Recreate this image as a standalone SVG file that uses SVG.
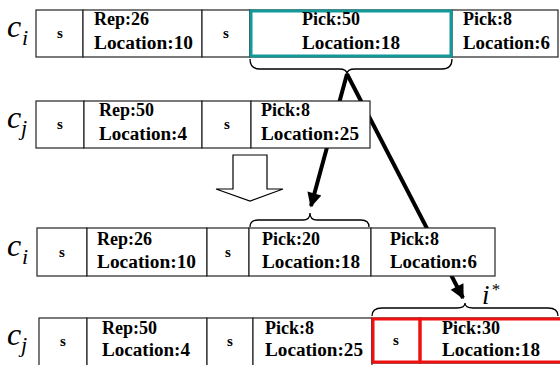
<svg xmlns="http://www.w3.org/2000/svg" width="560" height="365" viewBox="0 0 560 365">
  <defs>
    <marker id="head" viewBox="0 0 10 10" refX="9" refY="5" markerWidth="4.2" markerHeight="3.6" orient="auto" markerUnits="strokeWidth">
      <path d="M0,0 L10,5 L0,10 Z" fill="#000"/>
    </marker>
  </defs>
  <style>
    .cell { fill: #fff; stroke: #222; stroke-width: 1.2; }
    .teal { fill: none; stroke: #14999a; stroke-width: 3; }
    .red { fill: none; stroke: #f01010; stroke-width: 3; }
    .t { font-family: "Liberation Serif", "Times New Roman", serif; font-weight: bold; font-size: 18px; fill: #000; }
    .s { font-family: "Liberation Serif", "Times New Roman", serif; font-weight: bold; font-size: 15px; fill: #000; text-anchor: middle; }
    .var { font-family: "Liberation Serif", "Times New Roman", serif; font-style: italic; fill: #000; }
    .brace { fill: none; stroke: #000; stroke-width: 1.3; }
    .arrow { fill: none; stroke: #000; stroke-width: 4; }
  </style>

  <!-- thick arrows from the upper brace; the cells below are painted over them -->
  <g id="connectors">
    <line class="arrow" x1="347" y1="74" x2="311" y2="206" marker-end="url(#head)"/>
    <line class="arrow" x1="347" y1="74" x2="463" y2="298" marker-end="url(#head)"/>
    <!-- hollow transition arrow -->
    <path d="M233,155 L267,155 L267,189 L283,189 L250,201 L216,189 L233,189 Z" fill="#fff" stroke="#000" stroke-width="1.2"/>
    <!-- braces -->
    <path class="brace" d="M250,59 Q250,69 260,69 L339,69 Q347,69 347,74 Q347,69 355,69 L442,69 Q452,69 452,59"/>
    <path class="brace" d="M250,227 Q250,220 258,220 L303,220 Q310,220 310,213 Q310,220 317,220 L361,220 Q369,220 369,227"/>
    <path class="brace" d="M372,316 Q372,308 382,308 L457,308 Q465,308 465,303 Q465,308 473,308 L548,308 Q558,308 558,316"/>
  </g>

  <!-- row 1: c_i -->
  <g id="row1">
    <text class="var" x="7" y="37" font-size="32">c</text>
    <text class="var" x="22" y="45" font-size="22">i</text>
    <rect class="cell" x="36" y="10" width="47" height="47"/>
    <rect class="cell" x="83" y="10" width="119" height="47"/>
    <rect class="cell" x="202" y="10" width="48" height="47"/>
    <rect class="cell" x="250" y="10" width="202" height="47"/>
    <rect class="cell" x="452" y="10" width="106" height="47"/>
    <rect class="teal" x="251" y="11" width="200" height="45"/>
    <text class="s" x="60" y="38">s</text>
    <text class="t" x="94" y="25">Rep:26</text>
    <text class="t" x="94" y="49" textLength="99" lengthAdjust="spacingAndGlyphs">Location:10</text>
    <text class="s" x="226" y="38">s</text>
    <text class="t" x="302" y="25">Pick:50</text>
    <text class="t" x="302" y="49" textLength="98" lengthAdjust="spacingAndGlyphs">Location:18</text>
    <text class="t" x="463" y="25">Pick:8</text>
    <text class="t" x="463" y="49" textLength="87" lengthAdjust="spacingAndGlyphs">Location:6</text>
  </g>

  <!-- row 2: c_j -->
  <g id="row2">
    <text class="var" x="7" y="128" font-size="32">c</text>
    <text class="var" x="21" y="135" font-size="22">j</text>
    <rect class="cell" x="36" y="101" width="48" height="47"/>
    <rect class="cell" x="84" y="101" width="118" height="47"/>
    <rect class="cell" x="202" y="101" width="49" height="47"/>
    <rect class="cell" x="251" y="101" width="119" height="47"/>
    <text class="s" x="60" y="129">s</text>
    <text class="t" x="99" y="116">Rep:50</text>
    <text class="t" x="99" y="140" textLength="88" lengthAdjust="spacingAndGlyphs">Location:4</text>
    <text class="s" x="227" y="129">s</text>
    <text class="t" x="261" y="116">Pick:8</text>
    <text class="t" x="261" y="140" textLength="98" lengthAdjust="spacingAndGlyphs">Location:25</text>
  </g>

  <!-- row 3: c_i after the move -->
  <g id="row3">
    <text class="var" x="7" y="256" font-size="32">c</text>
    <text class="var" x="22" y="264" font-size="22">i</text>
    <rect class="cell" x="37" y="228" width="50" height="48"/>
    <rect class="cell" x="87" y="228" width="120" height="48"/>
    <rect class="cell" x="207" y="228" width="42" height="48"/>
    <rect class="cell" x="249" y="228" width="122" height="48"/>
    <rect class="cell" x="371" y="228" width="124" height="48"/>
    <text class="s" x="62" y="257">s</text>
    <text class="t" x="97" y="245">Rep:26</text>
    <text class="t" x="97" y="268" textLength="99" lengthAdjust="spacingAndGlyphs">Location:10</text>
    <text class="s" x="228" y="257">s</text>
    <text class="t" x="262" y="245">Pick:20</text>
    <text class="t" x="262" y="268" textLength="98" lengthAdjust="spacingAndGlyphs">Location:18</text>
    <text class="t" x="390" y="245">Pick:8</text>
    <text class="t" x="390" y="268" textLength="87" lengthAdjust="spacingAndGlyphs">Location:6</text>
  </g>

  <!-- row 4: c_j after the move -->
  <g id="row4">
    <text class="var" x="7" y="345" font-size="32">c</text>
    <text class="var" x="21" y="352" font-size="22">j</text>
    <rect class="cell" x="39" y="318" width="48" height="50"/>
    <rect class="cell" x="87" y="318" width="120" height="50"/>
    <rect class="cell" x="207" y="318" width="46" height="50"/>
    <rect class="cell" x="253" y="318" width="119" height="50"/>
    <rect class="cell" x="372" y="318" width="48" height="45"/>
    <rect class="cell" x="420" y="318" width="145" height="45"/>
    <rect class="red" x="373" y="319" width="47" height="43"/>
    <rect class="red" x="420" y="319" width="145" height="43"/>
    <text class="s" x="63" y="346">s</text>
    <text class="t" x="102" y="334">Rep:50</text>
    <text class="t" x="102" y="356" textLength="88" lengthAdjust="spacingAndGlyphs">Location:4</text>
    <text class="s" x="230" y="346">s</text>
    <text class="t" x="265" y="334">Pick:8</text>
    <text class="t" x="265" y="356" textLength="98" lengthAdjust="spacingAndGlyphs">Location:25</text>
    <text class="s" x="396" y="345">s</text>
    <text class="t" x="442" y="334">Pick:30</text>
    <text class="t" x="442" y="356" textLength="98" lengthAdjust="spacingAndGlyphs">Location:18</text>
  </g>

  <!-- label of the moved block -->
  <g id="label-istar">
    <text class="var" x="482" y="304" font-size="27">i</text>
    <text class="var" x="491" y="295" font-size="17">*</text>
  </g>
</svg>
